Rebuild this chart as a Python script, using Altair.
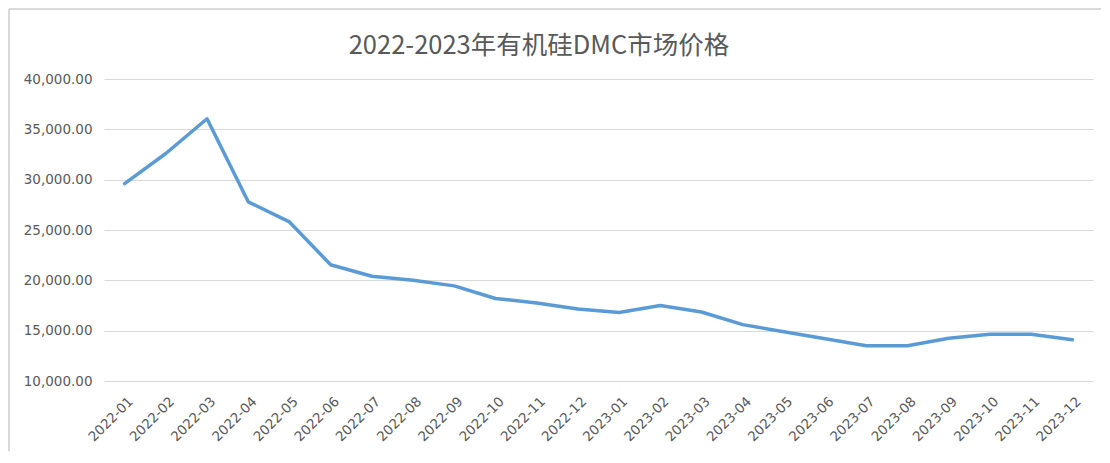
import altair as alt
import pandas as pd

months = ["2022-01", "2022-02", "2022-03", "2022-04", "2022-05", "2022-06",
          "2022-07", "2022-08", "2022-09", "2022-10", "2022-11", "2022-12",
          "2023-01", "2023-02", "2023-03", "2023-04", "2023-05", "2023-06",
          "2023-07", "2023-08", "2023-09", "2023-10", "2023-11", "2023-12"]
prices = [29600, 32600, 36050, 27800, 25800, 21550,
          20400, 20000, 19450, 18200, 17750, 17150,
          16800, 17500, 16850, 15600, 14900, 14200,
          13500, 13500, 14250, 14650, 14650, 14100]
y_ticks = [10000, 15000, 20000, 25000, 30000, 35000, 40000]
title_text = "2022-2023年有机硅DMC市场价格"

df = pd.DataFrame({"month": months, "price": prices})

W, H = 989, 302
PL, PT = 96, 71
FONT = "DejaVu Sans"

line = alt.Chart(df).mark_line(color="#5B9BD5", strokeWidth=3.5, strokeJoin="round", strokeCap="round").encode(
    x=alt.X("month:N", sort=months, title=None,
            scale=alt.Scale(paddingInner=1, paddingOuter=0.5),
            axis=alt.Axis(labelAngle=-45, labelAlign="right", labelBaseline="middle",
                          labelFontSize=13.5, labelColor="#595959", labelFont=FONT,
                          labelPadding=18, labelOffset=6, ticks=False, domain=False, grid=False,
                          labelOverlap=False, labelBound=False)),
    y=alt.Y("price:Q", title=None,
            scale=alt.Scale(domain=[10000, 40000], nice=False, zero=False),
            axis=alt.Axis(values=y_ticks, format=",.2f", labelFontSize=13.5,
                          labelColor="#595959", labelFont=FONT, labelPadding=12,
                          ticks=False, domain=False, grid=True, gridColor="#D9D9D9",
                          gridWidth=1)),
)

frame_top = alt.Chart(df).mark_rule(color="#D9D9D9", strokeWidth=2).encode(
    x=alt.value(-PL + 1), x2=alt.value(W + 20), y=alt.value(-PT + 1))
frame_left = alt.Chart(df).mark_rule(color="#D9D9D9", strokeWidth=2).encode(
    x=alt.value(-PL + 1), y=alt.value(-PT + 1), y2=alt.value(H + 120))

title = alt.Chart(pd.DataFrame({"t": [title_text]})).mark_text(
    font="Noto Sans CJK SC", fontSize=25.5, color="#595959", align="center", baseline="middle"
).encode(text="t:N", x=alt.value(435), y=alt.value(-33))

chart = alt.layer(frame_top, frame_left, title, line).properties(
    width=W, height=H,
    background="white",
    autosize=alt.AutoSizeParams(type="none"),
    padding={"left": PL, "top": PT, "right": 8, "bottom": 70},
).configure_view(stroke=None)

chart.save("out.html", embed_options={"renderer": "svg", "actions": False})
